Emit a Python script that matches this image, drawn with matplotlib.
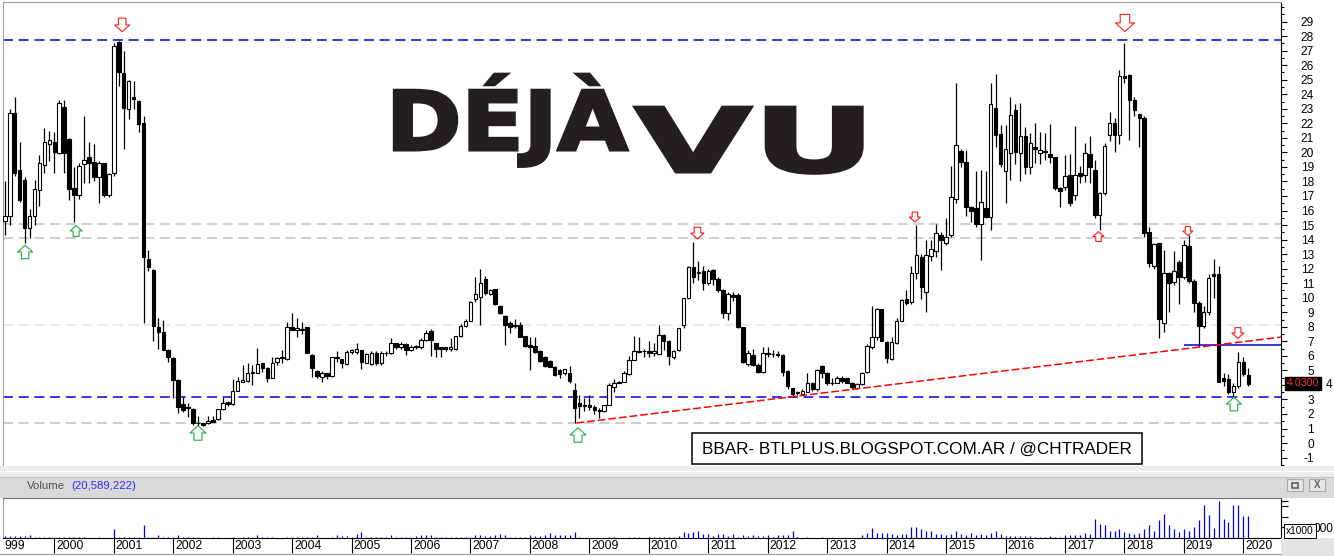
import numpy as np
import matplotlib
matplotlib.use("Agg")
import matplotlib.pyplot as plt
from matplotlib.patches import Rectangle
from matplotlib.lines import Line2D
from matplotlib.path import Path
from matplotlib.patheffects import AbstractPathEffect
from matplotlib.transforms import Affine2D, blended_transform_factory
from matplotlib.ticker import MultipleLocator, FuncFormatter

plt.rcParams['font.family'] = ['Liberation Sans', 'DejaVu Sans']
plt.rcParams['lines.scale_dashes'] = False

# monthly candles, month 0 = Jan 2000, first candle = Mar 1999
first_month = -10
opens = [
    15.3, 15.6, 22.7, 18.8, 18.1, 14.8, 15.6, 17.4, 19.1, 20.6,
    20.74, 19.98, 23.15, 20.9, 17.53, 17.07, 19.2, 19.66, 19.36, 18.3, 19.25, 17.07,
    18.6, 27.58, 25.44, 22.96, 23.84, 23.54, 22.0, 12.64, 11.9, 7.96, 7.64, 6.4,
    5.83, 4.34, 2.68, 2.4, 2.34, 1.4, 1.35, 1.35, 1.58, 1.63, 2.32, 2.8,
    2.66, 3.6, 4.22, 4.29, 4.84, 4.84, 5.48, 5.14, 4.45, 5.55, 5.9, 5.76,
    7.96, 7.8, 7.76, 7.96, 6.06, 4.98, 4.52, 4.8, 4.61, 5.9, 5.76, 5.44,
    6.29, 6.26, 6.4, 5.53, 5.44, 6.17, 5.53, 6.22, 6.17, 6.86, 6.63, 6.8,
    6.4, 6.6, 6.63, 7.09, 7.71, 6.86, 6.58, 6.58, 6.5, 6.45, 7.36, 8.08,
    8.42, 9.89, 10.07, 11.29, 10.25, 10.58, 9.43, 8.74, 8.24, 8.1, 8.12, 7.36,
    6.74, 6.68, 6.35, 5.94, 5.64, 5.25, 5.02, 4.79, 4.79, 3.65, 2.73, 2.55,
    2.62, 2.5, 2.27, 2.2, 2.62, 3.83, 4.15, 4.22, 4.75, 5.71, 6.35, 6.3,
    6.35, 6.22, 6.13, 7.43, 7.04, 5.9, 6.4, 8.12, 9.96, 12.09, 11.72, 11.86,
    10.99, 11.91, 11.26, 10.53, 8.92, 10.19, 10.19, 7.96, 5.44, 6.06, 5.37, 4.91,
    6.17, 6.13, 6.1, 6.06, 4.98, 3.76, 3.45, 3.35, 3.53, 4.15, 3.69, 5.3,
    4.84, 4.1, 4.11, 4.5, 4.45, 4.11, 3.79, 4.06, 4.91, 6.63, 7.27, 9.2,
    6.97, 5.76, 6.86, 8.42, 9.89, 9.73, 11.72, 12.78, 10.41, 12.87, 13.21, 14.31,
    13.74, 14.31, 16.77, 20.1, 19.32, 16.27, 16.15, 15.07, 16.15, 15.58, 23.03, 21.27,
    18.74, 19.94, 22.92, 19.94, 21.13, 19.02, 20.4, 19.98, 20.0, 19.89, 19.66, 17.53,
    17.6, 18.44, 17.07, 18.56, 18.44, 19.89, 18.79, 15.69, 17.23, 21.2, 22.05, 21.2,
    25.26, 25.33, 23.61, 22.64, 22.34, 14.54, 12.18, 13.74, 8.28, 11.72, 11.1, 12.48,
    11.4, 13.56, 11.17, 9.66, 8.05, 9.04, 11.6, 11.63, 4.45, 4.38, 3.53, 3.92,
    5.6, 4.68,
]
highs = [
    18.0, 23.0, 23.8, 20.7, 18.3, 16.1, 18.1, 19.8, 21.7, 21.5,
    21.4, 23.6, 23.6, 21.0, 19.0, 19.3, 22.5, 20.7, 20.6, 19.4, 19.3, 18.6,
    27.5, 27.7, 27.0, 25.0, 24.9, 23.6, 22.5, 13.3, 12.0, 8.6, 8.5, 6.45,
    5.9, 4.4, 3.19, 2.73, 2.4, 1.88, 1.4, 1.86, 1.86, 2.35, 3.2, 2.9,
    4.38, 4.57, 5.37, 5.48, 5.4, 6.52, 5.5, 5.25, 5.9, 5.94, 6.4, 8.35,
    8.97, 8.58, 8.3, 8.0, 6.1, 5.0, 4.98, 4.8, 5.94, 6.36, 5.8, 6.4,
    6.49, 6.88, 6.4, 6.2, 6.36, 6.3, 6.3, 6.36, 7.2, 6.9, 6.98, 6.9,
    6.77, 6.77, 7.2, 7.8, 7.82, 6.86, 6.6, 6.6, 7.2, 7.4, 8.19, 8.51,
    9.8, 11.45, 11.95, 11.5, 10.6, 10.6, 9.5, 8.8, 8.4, 8.51, 8.3, 7.4,
    7.3, 7.3, 6.4, 6.0, 5.7, 5.3, 5.1, 5.1, 5.3, 4.1, 3.3, 3.1,
    3.3, 2.6, 2.4, 2.65, 4.1, 4.4, 4.3, 4.95, 6.0, 7.4, 7.3, 6.5,
    7.0, 6.9, 8.1, 7.5, 7.1, 6.4, 7.9, 10.0, 12.2, 13.86, 12.5, 12.2,
    12.0, 12.0, 11.4, 10.6, 10.4, 10.4, 10.3, 8.0, 6.4, 6.5, 5.5, 6.6,
    6.6, 6.4, 6.3, 6.1, 5.0, 3.8, 3.6, 3.7, 4.8, 4.2, 5.1, 5.4,
    4.9, 4.5, 4.6, 4.6, 4.5, 4.2, 4.1, 4.9, 6.8, 9.43, 9.3, 9.25,
    7.0, 7.3, 8.6, 9.9, 10.5, 12.2, 15.0, 13.0, 13.97, 13.97, 15.07, 14.5,
    15.46, 19.06, 24.75, 20.2, 20.17, 16.3, 18.74, 18.8, 18.7, 24.75, 25.4, 21.9,
    21.9, 23.84, 23.33, 23.38, 21.78, 21.36, 22.0, 21.4, 21.36, 21.95, 19.7, 17.6,
    19.82, 19.89, 21.82, 19.06, 20.62, 21.13, 19.51, 17.3, 20.62, 22.8, 22.4, 25.7,
    27.5, 25.4, 23.8, 22.7, 22.5, 14.9, 13.8, 13.8, 13.28, 11.8, 13.2, 12.6,
    13.97, 14.3, 11.3, 9.8, 9.4, 11.65, 12.64, 12.2, 4.8, 4.75, 4.1, 6.29,
    5.9, 5.15,
]
lows = [
    14.3, 15.0, 18.4, 16.6, 13.8, 14.1, 15.0, 16.3, 18.6, 19.4,
    18.56, 19.9, 18.6, 16.7, 15.2, 16.8, 17.9, 17.9, 18.0, 16.5, 16.9, 16.9,
    18.4, 24.6, 20.2, 22.3, 23.0, 21.4, 8.24, 11.86, 7.04, 6.5, 6.4, 5.6,
    3.07, 2.04, 2.16, 1.81, 1.24, 1.17, 1.15, 1.31, 1.45, 1.6, 2.3, 2.55,
    2.6, 3.6, 4.2, 4.2, 3.98, 4.8, 4.9, 4.2, 4.45, 5.37, 5.48, 5.7,
    7.78, 7.32, 7.5, 6.17, 4.52, 4.45, 4.2, 4.38, 4.56, 5.6, 5.14, 5.37,
    6.1, 6.1, 5.07, 5.5, 5.37, 5.4, 5.4, 6.0, 6.1, 6.5, 6.5, 6.06,
    6.3, 6.5, 6.5, 7.0, 5.99, 5.94, 5.94, 6.3, 6.3, 6.4, 7.3, 8.0,
    8.4, 9.7, 8.12, 10.2, 10.2, 9.5, 8.9, 6.74, 7.6, 7.9, 7.3, 6.6,
    5.02, 6.2, 5.6, 5.2, 5.2, 4.6, 4.5, 4.7, 4.1, 1.4, 1.7, 2.2,
    2.3, 2.0, 1.7, 2.15, 2.6, 3.5, 4.1, 4.2, 4.7, 5.7, 6.2, 5.9,
    5.9, 6.0, 6.1, 6.4, 5.4, 5.8, 6.3, 7.9, 9.9, 11.0, 11.2, 10.5,
    10.9, 10.9, 10.4, 8.6, 8.5, 9.8, 7.9, 5.5, 5.3, 5.3, 4.8, 4.85,
    5.9, 5.9, 5.9, 4.6, 3.7, 3.2, 3.3, 3.3, 3.5, 3.6, 3.6, 4.5,
    4.0, 4.0, 4.1, 4.1, 4.1, 3.7, 3.7, 4.0, 4.8, 6.5, 7.1, 7.0,
    5.53, 5.7, 6.8, 8.4, 9.5, 9.6, 11.3, 9.9, 9.0, 12.5, 12.8, 11.9,
    13.6, 14.2, 16.5, 19.0, 15.6, 15.23, 14.9, 12.6, 15.5, 14.66, 20.4, 19.0,
    16.54, 18.1, 19.2, 18.0, 18.5, 18.5, 19.25, 19.2, 19.5, 19.3, 17.4, 16.27,
    17.4, 16.3, 16.72, 17.9, 17.98, 17.9, 15.5, 14.66, 17.1, 20.8, 20.0, 20.6,
    24.75, 20.85, 22.5, 20.4, 14.2, 12.14, 12.0, 7.2, 7.66, 9.04, 10.9, 9.57,
    11.3, 11.0, 9.04, 6.63, 7.9, 8.8, 10.0, 4.2, 3.9, 3.4, 3.07, 3.8,
    4.6, 3.95,
]
closes = [
    15.6, 22.7, 18.6, 16.7, 14.8, 15.6, 17.5, 19.25, 20.7, 20.85,
    20.05, 23.38, 19.98, 17.46, 17.07, 19.06, 19.5, 19.3, 18.33, 19.25, 17.07, 18.5,
    27.32, 25.51, 23.08, 24.9, 23.7, 21.93, 12.8, 12.09, 8.05, 7.64, 6.4, 5.9,
    4.34, 2.5, 2.27, 2.39, 1.4, 1.35, 1.22, 1.54, 1.45, 2.32, 2.73, 2.66,
    3.56, 4.27, 4.34, 4.84, 4.86, 5.41, 5.14, 4.5, 5.48, 5.83, 5.85, 7.96,
    7.78, 7.9, 7.85, 6.17, 5.14, 4.61, 4.84, 4.61, 5.9, 5.87, 5.53, 6.29,
    6.4, 6.45, 5.6, 6.12, 6.17, 5.53, 6.22, 6.17, 6.86, 6.63, 6.8, 6.4,
    6.58, 6.7, 7.09, 7.59, 7.09, 6.45, 6.45, 6.45, 6.6, 7.36, 8.08, 8.42,
    9.73, 10.23, 11.03, 10.3, 10.53, 9.57, 8.92, 8.12, 8.01, 8.05, 7.32, 6.68,
    6.63, 6.29, 5.67, 5.3, 5.25, 4.68, 4.75, 5.07, 4.29, 2.39, 2.55, 2.6,
    2.5, 2.27, 2.2, 2.62, 3.99, 4.15, 4.22, 4.79, 5.71, 6.35, 6.29, 6.35,
    6.22, 6.35, 7.43, 7.04, 5.99, 6.33, 7.89, 9.96, 12.09, 11.4, 11.75, 11.03,
    11.86, 11.26, 10.53, 8.97, 10.25, 10.07, 8.0, 5.6, 6.22, 5.37, 4.91, 6.17,
    6.13, 6.1, 6.06, 4.91, 3.92, 3.35, 3.5, 3.58, 4.11, 3.69, 5.02, 4.79,
    4.11, 4.15, 4.5, 4.3, 4.15, 3.83, 4.06, 4.84, 6.68, 7.27, 9.2, 7.04,
    5.83, 6.97, 8.42, 9.84, 9.66, 11.68, 12.92, 10.71, 12.92, 13.33, 14.43, 14.0,
    14.2, 16.95, 20.51, 19.36, 16.27, 15.99, 15.07, 16.61, 15.58, 23.33, 21.2, 19.2,
    20.2, 22.57, 20.05, 21.13, 19.02, 20.67, 20.2, 20.17, 20.1, 19.7, 17.53, 17.37,
    18.38, 16.54, 18.44, 18.38, 19.94, 19.02, 15.69, 17.18, 20.44, 22.05, 21.2, 25.26,
    25.1, 23.61, 22.92, 22.34, 14.43, 12.41, 13.7, 8.51, 11.68, 11.03, 11.86, 11.4,
    13.63, 11.17, 9.66, 8.05, 9.04, 11.33, 11.5, 4.22, 4.3, 3.53, 3.92, 5.6,
    4.75, 4.03,
]
# volume in millions of shares
volume_m = [
    1.9, 1.9, 1.9, 1.9, 1.9, 2.8, 1.0, 1.0, 1.0, 1.0,
    1.0, 1.0, 1.0, 1.0, 1.0, 1.0, 1.0, 0.3, 0.3, 1.0, 0.3, 0.3,
    8.5, 1.4, 1.4, 1.4, 1.4, 1.0, 12.0, 0.5, 1.0, 2.8, 1.4, 1.4,
    1.0, 2.8, 1.0, 1.0, 0.5, 1.0, 0.3, 0.3, 0.5, 1.0, 0.3, 0.3,
    1.4, 0.3, 1.4, 1.4, 1.4, 2.8, 1.0, 1.0, 0.5, 0.3, 0.3, 1.0,
    1.4, 1.4, 1.4, 1.4, 1.0, 2.8, 0.3, 0.3, 1.4, 2.4, 1.9, 1.9,
    1.4, 3.8, 5.2, 1.4, 1.4, 1.0, 1.4, 1.0, 2.4, 1.4, 1.4, 1.4,
    1.4, 1.9, 2.4, 2.4, 2.4, 1.0, 0.5, 1.0, 1.0, 1.0, 1.0, 1.4,
    1.4, 2.8, 2.4, 1.9, 1.9, 2.4, 3.8, 2.4, 1.4, 1.4, 1.4, 1.4,
    2.4, 1.9, 1.9, 2.8, 4.8, 2.8, 2.4, 2.4, 2.4, 5.7, 1.0, 0.3,
    0.3, 0.3, 0.3, 0.3, 0.7, 0.7, 0.3, 0.3, 0.7, 1.0, 0.7, 0.3,
    0.7, 0.7, 1.0, 1.0, 1.4, 1.0, 1.9, 5.7, 4.8, 5.7, 6.7, 3.8,
    3.8, 1.9, 3.8, 3.8, 1.9, 3.8, 1.4, 2.8, 1.9, 2.4, 1.9, 1.9,
    2.8, 1.4, 2.4, 2.4, 2.8, 6.7, 1.0, 0.3, 0.5, 0.3, 0.3, 0.5,
    0.3, 0.5, 0.3, 0.3, 0.3, 0.3, 0.3, 2.8, 4.8, 9.5, 4.8, 4.8,
    4.8, 3.8, 3.1, 3.8, 3.8, 10.5, 10.2, 8.8, 6.4, 6.9, 3.8, 3.8,
    2.6, 3.8, 6.9, 3.8, 3.1, 4.8, 2.6, 3.8, 2.6, 4.8, 6.9, 3.8,
    1.6, 1.6, 1.6, 1.6, 1.6, 1.6, 1.0, 1.0, 1.0, 1.6, 1.0, 1.0,
    2.6, 2.6, 2.6, 2.6, 4.8, 3.8, 17.4, 13.3, 11.7, 6.9, 6.9, 8.8,
    5.7, 4.8, 3.8, 4.8, 8.8, 11.7, 6.9, 16.4, 22.1, 11.7, 8.8, 5.7,
    8.8, 6.9, 10.4, 16.4, 30.6, 21.5, 9.5, 34.2, 17.4, 15.2, 31.0, 31.0,
    20.6, 20.6,
]
years = list(range(1999, 2021))
year_labels = ['999'] + [str(y) for y in years[1:]]   # first one is cut in the original
price_ticks = list(range(-1, 30))
last_price, last_price_text = 4.03, "4.0300"
last_volume_text = "(20,589,222)"

# drawn support / resistance levels
levels = [27.76, 15.09, 14.12, 8.13, 3.20, 1.41]
level_colors = ['#0000dd', '#c0c0c0', '#c0c0c0', '#e2e2f6', '#0000dd', '#c0c0c0']
support_level, support_from = 6.75, 228
trend_x = [105.4, 247.6]
trend_y = [1.38, 7.29]

# hand drawn arrows (month, price, width in px)
down_x = [13.7, 129.8, 216.1, 173.7, 228.8, 238.9]
down_y = [28.77, 14.45, 28.91, 15.55, 14.59, 7.57]
down_px = [15, 13, 19, 11, 10, 12]
red_up_x, red_up_y, red_up_px = [210.7], [14.25], [11]
green_x = [-5.9, 4.4, 29.0, 105.7, 238.1]
green_y = [13.15, 14.59, 0.69, 0.55, 2.68]
green_px = [15, 12, 16, 16, 15]

W, H = 1334, 556
fig = plt.figure(figsize=(W / 100, H / 100), dpi=100)


def fx(x):
    return x / W


def fy(y):
    return 1 - y / H


XL = (-10.36, 247.6)

# ---------------- main price panel ----------------
ax = fig.add_axes([fx(3), fy(466), (1281 - 3) / W, (466 - 2) / H])
ax.set_xlim(*XL)
ax.set_ylim(-1.58, 30.35)

m = np.arange(first_month, first_month + len(opens))
o, h, l, c = (np.array(a) for a in (opens, highs, lows, closes))
up = c >= o

for v, col in zip(levels, level_colors):
    ax.axhline(v, color=col, lw=1.1, dashes=(7.2, 4.1), zorder=1)

ax.vlines(m, l, h, color='black', lw=0.9, zorder=2)
ax.bar(m, np.maximum(np.abs(c - o), 0.06), width=0.72, bottom=np.minimum(o, c),
       color=np.where(up, 'white', 'black'), edgecolor='black', linewidth=0.8, zorder=3)

ax.hlines(support_level, support_from, XL[1], color='#0000dd', lw=1.1, zorder=4)
ax.plot(trend_x, trend_y, color='#ff0000', lw=1.1, dashes=(5.5, 2.2), zorder=4)

down_arrow = Path([(-0.25, 0.45), (0.25, 0.45), (0.25, 0.0), (0.5, 0.0), (0.0, -0.45),
                   (-0.5, 0.0), (-0.25, 0.0), (-0.25, 0.45)], closed=True)
up_arrow = Path([(x, -y) for x, y in down_arrow.vertices], closed=True)


def sz(px):
    return (np.array(px) * 0.72) ** 2


ax.scatter(down_x, down_y, s=sz(down_px), marker=down_arrow, facecolors='white',
           edgecolors='#ff1a1a', linewidths=0.8, zorder=6)
ax.scatter(red_up_x, red_up_y, s=sz(red_up_px), marker=up_arrow, facecolors='white',
           edgecolors='#ff1a1a', linewidths=0.8, zorder=6)
ax.scatter(green_x, green_y, s=sz(green_px), marker=up_arrow, facecolors='white',
           edgecolors='#1fae3f', linewidths=0.8, zorder=6)

ax.set_xticks([])
ax.yaxis.tick_right()
ax.set_yticks(price_ticks)
# the "4" label sits beside the last-price box, drawn separately below
ax.yaxis.set_major_formatter(FuncFormatter(lambda v, p: '' if v == 4 else f'{v:g}'))
ax.yaxis.set_minor_locator(MultipleLocator(0.5))
ax.tick_params(axis='y', which='major', length=4.3, width=0.8, labelsize=8.6, pad=19.5)
ax.tick_params(axis='y', which='minor', length=2.4, width=0.8)
for lab in ax.get_yticklabels():
    lab.set_horizontalalignment('right')
for side in ('left', 'top'):
    ax.spines[side].set_color('#a0a0a0')
ax.spines['bottom'].set_visible(False)
ax.spines['right'].set_linewidth(0.8)

rt = blended_transform_factory(ax.transAxes, ax.transData)
ax.text(1 + 6 / 1278, 4.1, last_price_text, transform=rt,
        color='#ff3030', fontsize=7.7, ha='left', va='center', clip_on=False, zorder=10,
        bbox=dict(boxstyle='square,pad=0.15', fc='black', ec='black'))
ax.text(1 + 45 / 1278, 4, '4', transform=rt, fontsize=8.6, ha='left', va='center',
        clip_on=False, zorder=10)

# ---------------- volume panel ----------------
axv = fig.add_axes([fx(3), fy(538), (1281 - 3) / W, (538 - 498) / H])
axv.set_xlim(*XL)
axv.set_ylim(0, 37.4)
axv.vlines(m, 0, volume_m, color='#0000ff', lw=0.9)
axv.set_xticks([12 * (y - 2000) for y in years if y >= 2000])
axv.tick_params(axis='x', direction='out', length=10.8, width=0.8, labelbottom=False)
axv.yaxis.tick_right()
axv.set_yticks([10, 20, 30, 35])
axv.tick_params(axis='y', length=5, width=0.8, labelright=False)
axv.spines['top'].set_color('#6f6f6f')
axv.spines['left'].set_color('#a0a0a0')
axv.spines['right'].set_linewidth(0.8)
axv.spines['bottom'].set_linewidth(0.8)
tb = blended_transform_factory(axv.transData, axv.transAxes)
for y, lab in zip(years, year_labels):
    xpos = 12 * (y - 2000) + 0.4 if y >= 2000 else XL[0] + 0.2
    axv.text(xpos, -0.2, lab, transform=tb, fontsize=8.7,
             ha='left', va='center', clip_on=False)

# ---------------- window chrome ----------------
fig.add_artist(Rectangle((0, fy(477)), 1, (477 - 466) / H, transform=fig.transFigure,
                         fc='#ececec', ec='none', zorder=0.5))
fig.add_artist(Rectangle((0, fy(498)), 1, (498 - 477) / H, transform=fig.transFigure,
                         fc='#d9d9d9', ec='none', zorder=0.5))
fig.add_artist(Line2D([0, 1], [fy(470.5)] * 2, transform=fig.transFigure, color='white', lw=1))
fig.add_artist(Line2D([0, 1], [fy(476.5)] * 2, transform=fig.transFigure, color='#c4c4c4', lw=0.8))
fig.add_artist(Rectangle((fx(1281), 0), (W - 1281) / W, (556 - 538) / H,
                         transform=fig.transFigure, fc='#e4e4e4', ec='none', zorder=0.5))
fig.add_artist(Line2D([0, fx(1281)], [fy(553.5)] * 2, transform=fig.transFigure,
                      color='#9a9a9a', lw=0.8))

fig.text(fx(27), fy(486), 'Volume', color='#505050', fontsize=8.2, va='center')
fig.text(fx(71), fy(486), last_volume_text, color='#2b2bff', fontsize=8.2, va='center')

for bx in (1287, 1309):
    fig.add_artist(Rectangle((fx(bx), fy(491)), 16 / W, 12 / H, transform=fig.transFigure,
                             fc='#e6e6e6', ec='#a8a8a8', lw=0.8, zorder=2))
fig.add_artist(Rectangle((fx(1292), fy(488)), 6 / W, 5 / H, transform=fig.transFigure,
                         fc='none', ec='#606060', lw=1.2, zorder=3))
fig.text(fx(1317), fy(485), 'X', color='#606060', fontsize=7, ha='center', va='center',
         fontweight='bold', zorder=3)

fig.text(fx(1286), fy(531), 'x1000', fontsize=7.3, va='center', zorder=3,
         bbox=dict(boxstyle='square,pad=0.2', fc='white', ec='black', lw=0.7))
fig.text(fx(1314), fy(529), '000', fontsize=8.6, va='center', zorder=2)

# watermark box
fig.add_artist(Rectangle((fx(692), fy(464)), (1142 - 692) / W, (464 - 433) / H,
                         transform=fig.transFigure, fc='white', ec='black', lw=1.1, zorder=2))
fig.text(fx(917), fy(449), 'BBAR- BTLPLUS.BLOGSPOT.COM.AR / @CHTRADER', fontsize=12.3,
         ha='center', va='center', color='black', zorder=3)


# ---------------- title ----------------
class HeavyStretch(AbstractPathEffect):
    """Draw the glyphs stretched horizontally and thickened with a stroke."""

    def __init__(self, sx, x0, stroke):
        super().__init__()
        self.sx, self.x0, self.stroke = sx, x0, stroke

    def draw_path(self, renderer, gc, tpath, affine, rgbFace=None):
        aff = affine + Affine2D().translate(-self.x0, 0).scale(self.sx, 1).translate(self.x0, 0)
        g = renderer.new_gc()
        g.copy_properties(gc)
        g.set_linewidth(self.stroke)
        g.set_foreground(rgbFace)
        g.set_joinstyle('miter')
        renderer.draw_path(g, tpath, aff, rgbFace)
        g.restore()


renderer = fig.canvas.get_renderer()


def title_word(word, x_left, x_right, baseline, size):
    t = fig.text(fx(x_left), fy(baseline), word, family='DejaVu Sans', fontweight='bold',
                 fontsize=size, color='#231f20', ha='left', va='baseline', zorder=4)
    bb = t.get_window_extent(renderer)
    t.set_path_effects([HeavyStretch((x_right - x_left) / bb.width, bb.x0, 2.2)])
    return t


title_word('DÉJÀ', 386, 628, 150, 59)
title_word('VU', 634, 876, 172, 64)

fig.savefig('out.png', dpi=100)
